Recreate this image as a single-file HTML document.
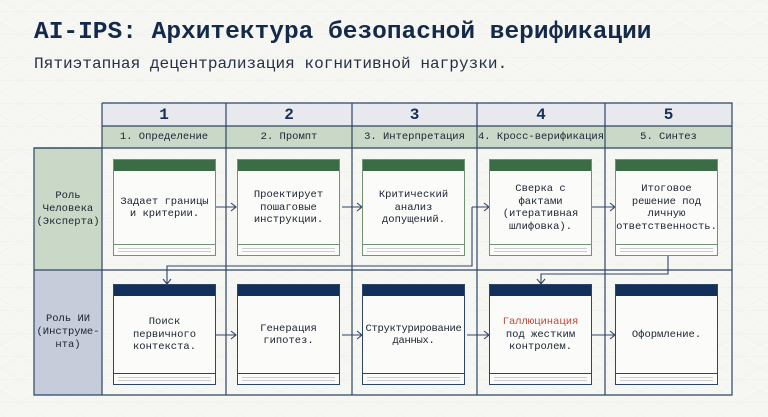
<!DOCTYPE html>
<html><head><meta charset="utf-8"><style>
body{margin:0;width:768px;height:417px;background:#f6f6f3;font-family:"Liberation Mono","DejaVu Sans Mono",monospace;position:relative;overflow:hidden;color:#1a2433}
.a{position:absolute}
.t{left:34px;top:19px;font-size:24.5px;font-weight:bold;color:#132a4a;white-space:nowrap}
.s{left:34px;top:55px;font-size:16.1px;color:#253246;white-space:nowrap}
.c{display:flex;align-items:center;justify-content:center;text-align:center;box-sizing:border-box}
.h1{top:103px;height:23px;background:#e7e9ee;font-weight:bold;font-size:16px;color:#1a2f55}
.h2{top:126px;height:22px;background:#cad8c8;font-size:10.5px}
.box{position:absolute;width:103px;background:#fbfbf9;box-sizing:border-box;font-size:10.5px;line-height:12.5px}
.box .txt{position:absolute;left:0;right:0;display:flex;align-items:center;justify-content:center;text-align:center}
.g{border:1.2px solid #6f9474;height:97px;top:159px}
.g .hd{background:#3b6c46;height:11px}
.n{border:1.2px solid #2d4566;height:101px;top:284px}
.n .hd{background:#13305a;height:11px}
.ft{position:absolute;left:0;right:0;bottom:0;height:10px;border-top:1px solid currentColor}
.ft:after{content:"";position:absolute;left:4px;right:4px;top:3px;height:2px;border-top:1px solid #c9ccd2;border-bottom:1px solid #c9ccd2}
</style></head><body>
<svg class="a" style="left:0;top:0" width="768" height="417">
<defs><pattern id="p" width="40" height="23" patternUnits="userSpaceOnUse"><path d="M0 0L40 23M40 0L0 23M0 11.5H40" stroke="#eeeeea" stroke-width="0.5" fill="none"/></pattern></defs>
<rect width="768" height="417" fill="url(#p)"/>
</svg>
<div class="a t">AI-IPS: Архитектура безопасной верификации</div>
<div class="a s">Пятиэтапная децентрализация когнитивной нагрузки.</div>

<div class="a c h1" style="left:102px;width:124px">1</div>
<div class="a c h1" style="left:226px;width:126px">2</div>
<div class="a c h1" style="left:352px;width:125px">3</div>
<div class="a c h1" style="left:477px;width:128px">4</div>
<div class="a c h1" style="left:605px;width:127px">5</div>
<div class="a c h2" style="left:102px;width:124px">1. Определение</div>
<div class="a c h2" style="left:226px;width:126px">2. Промпт</div>
<div class="a c h2" style="left:352px;width:125px">3. Интерпретация</div>
<div class="a c h2" style="left:477px;width:128px">4. Кросс-верификация</div>
<div class="a c h2" style="left:605px;width:127px">5. Синтез</div>
<div class="a c" style="left:34px;top:148px;width:68px;height:122px;background:#cad8c8;font-size:10.5px;line-height:13px">Роль<br>Человека<br>(Эксперта)</div>
<div class="a c" style="left:34px;top:270px;width:68px;height:125px;background:#c6ccda;font-size:10.5px;line-height:13px">Роль ИИ<br>(Инструме-<br>нта)</div>

<svg class="a" style="left:0;top:0" width="768" height="417" fill="none" stroke="#2d4566" stroke-width="1.2">
<path d="M102 103H732V395H34V148H102"/>
<line x1="102" y1="103" x2="102" y2="395"/>
<line x1="226" y1="103" x2="226" y2="395"/>
<line x1="352" y1="103" x2="352" y2="395"/>
<line x1="477" y1="103" x2="477" y2="395"/>
<line x1="605" y1="103" x2="605" y2="395"/>
<line x1="102" y1="126" x2="732" y2="126"/>
<line x1="34" y1="148" x2="732" y2="148"/>
<line x1="34" y1="270" x2="732" y2="270"/>
<g stroke="#2d4566" stroke-width="1.1">
<path d="M216 207H235M231 203L236 207L231 211"/>
<path d="M342 207H361M357 203L362 207L357 211"/>
<path d="M592 207H614M610 203L615 207L610 211"/>
<path d="M472 207H488M484 203L489 207L484 211M472 207V266H167V283M163 279L167 284L171 279"/>
<path d="M668 256V274H541V283M537 279L541 284L545 279"/>
<path d="M216 335H235M231 331L236 335L231 339"/>
<path d="M342 335H361M357 331L362 335L357 339"/>
<path d="M467 335H488M484 331L489 335L484 339"/>
<path d="M592 335H614M610 331L615 335L610 339"/>
</g>
</svg>

<div class="box g" style="left:113px;color:#6f9474"><div class="hd"></div><div class="txt" style="top:11px;bottom:10px;color:#1a2433">Задает границы<br>и критерии.</div><div class="ft"></div></div>
<div class="box g" style="left:237px;color:#6f9474"><div class="hd"></div><div class="txt" style="top:11px;bottom:10px;color:#1a2433">Проектирует<br>пошаговые<br>инструкции.</div><div class="ft"></div></div>
<div class="box g" style="left:362px;color:#6f9474"><div class="hd"></div><div class="txt" style="top:11px;bottom:10px;color:#1a2433">Критический<br>анализ<br>допущений.</div><div class="ft"></div></div>
<div class="box g" style="left:489px;color:#6f9474"><div class="hd"></div><div class="txt" style="top:11px;bottom:10px;color:#1a2433">Сверка с<br>фактами<br>(итеративная<br>шлифовка).</div><div class="ft"></div></div>
<div class="box g" style="left:615px;color:#6f9474"><div class="hd"></div><div class="txt" style="top:11px;bottom:10px;color:#1a2433">Итоговое<br>решение под<br>личную<br>ответственность.</div><div class="ft"></div></div>

<div class="box n" style="left:113px;color:#2d4566"><div class="hd"></div><div class="txt" style="top:11px;bottom:10px;color:#1a2433">Поиск<br>первичного<br>контекста.</div><div class="ft"></div></div>
<div class="box n" style="left:237px;color:#2d4566"><div class="hd"></div><div class="txt" style="top:11px;bottom:10px;color:#1a2433">Генерация<br>гипотез.</div><div class="ft"></div></div>
<div class="box n" style="left:362px;color:#2d4566"><div class="hd"></div><div class="txt" style="top:11px;bottom:10px;color:#1a2433;letter-spacing:-0.3px">Структурирование<br>данных.</div><div class="ft"></div></div>
<div class="box n" style="left:489px;color:#2d4566"><div class="hd"></div><div class="txt" style="top:11px;bottom:10px;color:#1a2433"><span><span style="color:#c0473a">Галлюцинация</span><br>под жестким<br>контролем.</span></div><div class="ft"></div></div>
<div class="box n" style="left:615px;color:#2d4566"><div class="hd"></div><div class="txt" style="top:11px;bottom:10px;color:#1a2433">Оформление.</div><div class="ft"></div></div>
</body></html>
